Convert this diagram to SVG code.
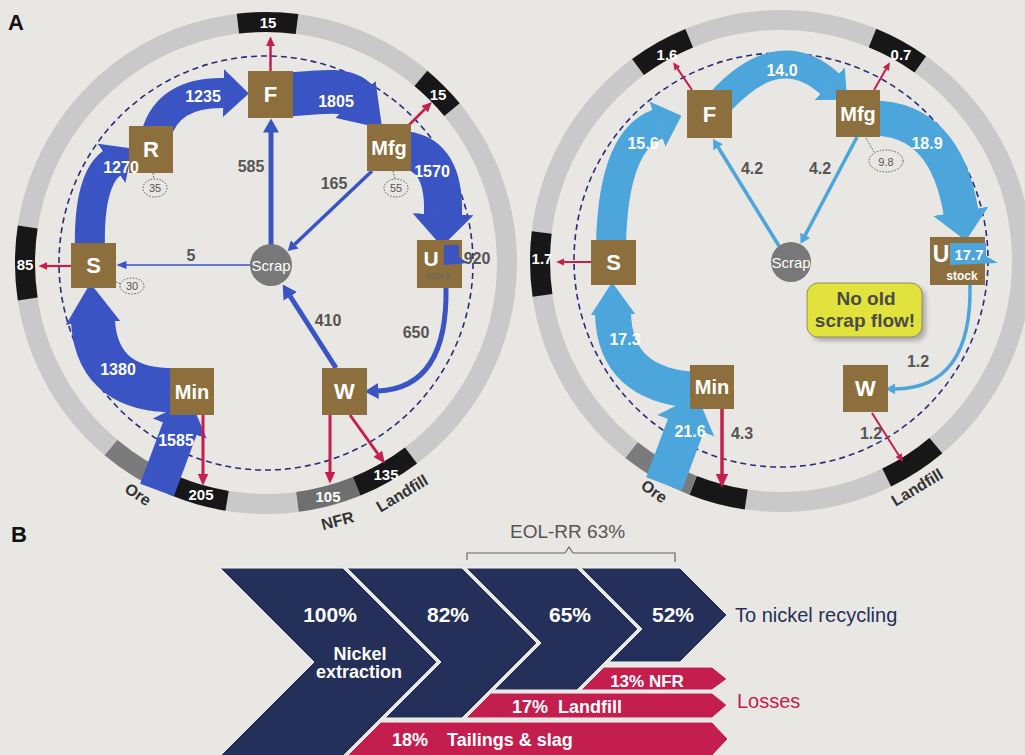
<svg xmlns="http://www.w3.org/2000/svg" width="1025" height="755" viewBox="0 0 1025 755">
<style>
.ring{fill:none;stroke:#c9c9c9;stroke-width:20}
.seg{fill:none;stroke-width:20}
.blk{stroke:#171717}
.dk{stroke:#7b7b7b}
.nfr{stroke:#6f6f6f}
.dash{fill:none;stroke:#2b2b78;stroke-width:1.6;stroke-dasharray:6 4}
.node rect{fill:#8c6f3c}
.scrap circle{fill:#787878}
.t{font-family:"Liberation Sans",Arial,sans-serif}
.nl{font-weight:bold;fill:#fff;text-anchor:middle}
.db{fill:none;stroke:#3a54c4}
.lb{fill:none;stroke:#4ca5db}
.rd{fill:none;stroke:#c51f4b}
.wl{font-weight:bold;font-size:16px;fill:#fff;text-anchor:middle}
.gl{font-weight:bold;font-size:16px;fill:#555;text-anchor:middle}
.rl{font-weight:bold;font-size:15px;fill:#fff;text-anchor:middle}
.ol{font-weight:bold;font-size:16px;fill:#333;text-anchor:middle}
.el{fill:none;stroke:#555;stroke-width:1;stroke-dasharray:1.5 1.5}
.et{font-size:11px;fill:#555;text-anchor:middle}
.nv{fill:#24305a;stroke:#f4f3f0;stroke-width:1}
.pk{fill:#c41e4e;stroke:#f4f3f0;stroke-width:1}
.bw{font-weight:bold;fill:#fff}
</style>
<defs>
<marker id="hAd" viewBox="0 -0.8 0.85 1.6" markerWidth="0.85" markerHeight="1.6" refX="0.02" refY="0" orient="auto"><path d="M0,-0.8 L0.85,0 L0,0.8 Z" fill="#3a54c4"/></marker>
<marker id="hBd" viewBox="0 -0.62 0.9 1.24" markerWidth="0.9" markerHeight="1.24" refX="0.02" refY="0" orient="auto"><path d="M0,-0.62 L0.9,0 L0,0.62 Z" fill="#3a54c4"/></marker>
<marker id="hAl" viewBox="0 -0.8 0.85 1.6" markerWidth="0.85" markerHeight="1.6" refX="0.02" refY="0" orient="auto"><path d="M0,-0.8 L0.85,0 L0,0.8 Z" fill="#4ca5db"/></marker>
<marker id="hBl" viewBox="0 -0.62 0.9 1.24" markerWidth="0.9" markerHeight="1.24" refX="0.02" refY="0" orient="auto"><path d="M0,-0.62 L0.9,0 L0,0.62 Z" fill="#4ca5db"/></marker>
<marker id="td" viewBox="0 -1.6 2.8 3.2" markerWidth="2.8" markerHeight="3.2" refX="0.1" refY="0" orient="auto"><path d="M0,-1.6 L2.8,0 L0,1.6 Z" fill="#3a54c4"/></marker>
<marker id="tl" viewBox="0 -1.6 2.8 3.2" markerWidth="2.8" markerHeight="3.2" refX="0.1" refY="0" orient="auto"><path d="M0,-1.6 L2.8,0 L0,1.6 Z" fill="#4ca5db"/></marker>
<marker id="fd" viewBox="0 -4 10 8" markerWidth="10" markerHeight="8" markerUnits="userSpaceOnUse" refX="0.5" refY="0" orient="auto"><path d="M0,-4 L10,0 L0,4 Z" fill="#3a54c4"/></marker>
<marker id="rh" viewBox="0 -1.8 4 3.6" markerWidth="4" markerHeight="3.6" refX="0.1" refY="0" orient="auto"><path d="M0,-1.8 L4,0 L0,1.8 Z" fill="#c51f4b"/></marker>
<filter id="sh" x="-20%" y="-20%" width="140%" height="140%"><feGaussianBlur stdDeviation="2"/></filter>
</defs>

<rect width="1025" height="755" fill="#e9e7e3"/>

<g class="t">
<text x="8" y="30" font-size="22" font-weight="bold" fill="#111">A</text>
<text x="11" y="542" font-size="22" font-weight="bold" fill="#111">B</text>
</g>

<!-- LEFT CIRCLE rings -->
<g id="L-ring">
<circle cx="266" cy="263" r="241" class="ring"/>
<path class="seg blk" d="M237.9,23.6 A241,241 0 0 1 297.0,24.0"/>
<path class="seg blk" d="M420.9,78.4 A241,241 0 0 1 452.0,109.7"/>
<path class="seg blk" d="M27.7,299 A241,241 0 0 1 27.7,227"/>
<path class="seg blk" d="M227.1,500.8 A241,241 0 0 1 173.0,485.3"/>
<path class="seg dk" d="M173.0,485.3 A241,241 0 0 1 111.1,447.6"/>
<path class="seg nfr" d="M356.7,486.3 A241,241 0 0 1 297.5,501.9"/>
<path class="seg blk" d="M411.0,455.5 A241,241 0 0 1 356.7,486.3"/>
<circle cx="266" cy="263" r="207" class="dash"/>
<g class="t">
<text class="rl" x="268" y="28">15</text>
<text class="rl" x="438" y="100">15</text>
<text class="rl" x="25" y="270">85</text>
<text class="rl" x="201" y="500">205</text>
<text class="rl" x="328" y="502">105</text>
<text class="rl" x="386" y="480">135</text>
<text class="ol" transform="translate(135,499) rotate(33)">Ore</text>
<text class="ol" transform="translate(339,526) rotate(-15)">NFR</text>
<text class="ol" transform="translate(405,498) rotate(-31)">Landfill</text>
</g>
</g>

<!-- RIGHT CIRCLE rings -->
<g id="R-ring">
<circle cx="781" cy="261" r="241" class="ring"/>
<path class="seg blk" d="M638.0,67.0 A241,241 0 0 1 689.2,38.2"/>
<path class="seg blk" d="M872.5,38.0 A241,241 0 0 1 920.3,64.3"/>
<path class="seg blk" d="M542.5,295.4 A241,241 0 0 1 541.7,232.5"/>
<path class="seg blk" d="M746.2,499.5 A241,241 0 0 1 693.1,485.4"/>
<path class="seg dk" d="M693.1,485.4 A241,241 0 0 1 631.6,450.1"/>
<path class="seg blk" d="M935.9,445.6 A241,241 0 0 1 886.7,477.6"/>
<circle cx="781" cy="260" r="207" class="dash"/>
<g class="t">
<text class="rl" x="667" y="60">1.6</text>
<text class="rl" x="901" y="60">0.7</text>
<text class="rl" x="542" y="264">1.7</text>
<text class="ol" transform="translate(651,496) rotate(35)">Ore</text>
<text class="ol" transform="translate(920,492) rotate(-31)">Landfill</text>
</g>
</g>

<!-- CONNECTORS -->
<g id="connectors">
<!-- left -->
<path class="db" stroke-width="30" d="M156,135 Q168,92 224,93" marker-end="url(#hAd)"/>
<path class="db" stroke-width="44" d="M285,95 C320,92 345,88 356,100" marker-end="url(#hBd)"/>
<path class="db" stroke-width="38" d="M405,150 Q445,155 443,215" marker-end="url(#hAd)"/>
<path class="db" stroke-width="44" d="M185,390 Q98,395 93,322" marker-end="url(#hBd)"/>
<path class="db" stroke-width="36" d="M157,490 L180,428" marker-end="url(#hAd)"/>
<path class="db" stroke-width="30" d="M90,250 Q88,180 112,163" marker-end="url(#hAd)"/>
<path class="db" stroke-width="5" d="M446,287 Q448,388 378,391" marker-end="url(#td)"/>
<path class="db" stroke-width="5" d="M336,368 L290,296" marker-end="url(#td)"/>
<path class="db" stroke-width="5" d="M271,245 L271,132" marker-end="url(#td)"/>
<path class="db" stroke-width="3.5" d="M372,171 L294.5,244.6" marker-end="url(#td)"/>
<path class="db" stroke-width="1.3" d="M251,265 L126,265" marker-end="url(#fd)"/>
<path class="rd" stroke-width="2.5" d="M270.5,71 L270.5,46" marker-end="url(#rh)"/>
<path class="rd" stroke-width="2.5" d="M408,126 L425,109" marker-end="url(#rh)"/>
<path class="rd" stroke-width="2.2" d="M71,266 L47,266" marker-end="url(#rh)"/>
<path class="rd" stroke-width="3" d="M203,415 L203,474" marker-end="url(#rh)"/>
<path class="rd" stroke-width="3" d="M330,415 L330,472" marker-end="url(#rh)"/>
<path class="rd" stroke-width="3" d="M350,415 L378,454" marker-end="url(#rh)"/>
<!-- right -->
<path class="lb" stroke-width="30" d="M611,245 Q613,140 658,124" marker-end="url(#hAl)"/>
<path class="lb" stroke-width="28" d="M722,100 Q780,38 830,84" marker-end="url(#hAl)"/>
<path class="lb" stroke-width="35" d="M872,118 Q945,118 961,212" marker-end="url(#hAl)"/>
<path class="lb" stroke-width="36" d="M695,390 Q615,385 613,314" marker-end="url(#hBl)"/>
<path class="lb" stroke-width="38" d="M664,484 L686,425" marker-end="url(#hAl)"/>
<path class="lb" stroke-width="3.5" d="M970,285 Q972,388 895,389" marker-end="url(#tl)"/>
<path class="lb" stroke-width="3.5" d="M779,246 L718,147" marker-end="url(#tl)"/>
<path class="lb" stroke-width="3.5" d="M857,137 L805,235.5" marker-end="url(#tl)"/>
<path class="rd" stroke-width="2" d="M692,90 L677.5,68.6" marker-end="url(#rh)"/>
<path class="rd" stroke-width="2" d="M874,90 L886,69" marker-end="url(#rh)"/>
<path class="rd" stroke-width="2" d="M591,262 L564,262" marker-end="url(#rh)"/>
<path class="rd" stroke-width="3.5" d="M722,408 L722,474" marker-end="url(#rh)"/>
<path class="rd" stroke-width="2" d="M872,413 L898.7,455.2" marker-end="url(#rh)"/>
</g>

<!-- LEFT NODES -->
<g class="t">
<g id="L-F" class="node"><rect x="248" y="71" width="45" height="47"/><text class="nl" x="270.5" y="102" font-size="22">F</text></g>
<g id="L-Mfg" class="node"><rect x="367" y="124" width="44" height="47"/><text class="nl" x="389" y="154.5" font-size="20">Mfg</text></g>
<g id="L-U" class="node"><rect x="417" y="240" width="45" height="48"/><path d="M444,245 L459,245 L459,257 L468,263 L444,265 Z" fill="#3a54c4"/><text class="nl" x="431" y="266" font-size="21">U</text><rect x="423" y="269" width="32" height="11" fill="#f0efec"/><text x="439" y="278.5" font-size="11" fill="#666" text-anchor="middle">stock</text></g>
<g id="L-W" class="node"><rect x="322" y="368" width="45" height="47"/><text class="nl" x="344.5" y="399" font-size="22">W</text></g>
<g id="L-Min" class="node"><rect x="170" y="368" width="44" height="47"/><text class="nl" x="192" y="398.5" font-size="20">Min</text></g>
<g id="L-S" class="node"><rect x="71" y="243" width="45" height="45"/><text class="nl" x="93.5" y="273" font-size="22">S</text></g>
<g id="L-R" class="node"><rect x="129" y="126" width="44" height="47"/><text class="nl" x="151" y="157" font-size="22">R</text></g>
<g id="L-Scrap" class="scrap"><circle cx="271" cy="265" r="21"/><text x="271" y="270.5" font-size="15" fill="#fff" text-anchor="middle">Scrap</text></g>
</g>

<!-- RIGHT NODES -->
<g class="t">
<g id="R-F" class="node"><rect x="687" y="90" width="45" height="48"/><text class="nl" x="709.5" y="121.5" font-size="22">F</text></g>
<g id="R-Mfg" class="node"><rect x="836" y="90" width="44" height="47"/><text class="nl" x="858" y="120.5" font-size="20">Mfg</text></g>
<g id="R-U" class="node"><rect x="930" y="237" width="55" height="48"/><path d="M950,243 L986,243 L986,256 L998,263 L950,265 Z" fill="#4ca5db"/><text class="nl" x="941" y="262" font-size="23">U</text><text class="nl" x="969" y="260" font-size="15">17.7</text><text class="nl" x="962" y="280" font-size="12">stock</text></g>
<g id="R-W" class="node"><rect x="843" y="365" width="45" height="47"/><text class="nl" x="865.5" y="396" font-size="22">W</text></g>
<g id="R-Min" class="node"><rect x="690" y="365" width="44" height="44"/><text class="nl" x="712" y="394" font-size="20">Min</text></g>
<g id="R-S" class="node"><rect x="591" y="240" width="45" height="45"/><text class="nl" x="613.5" y="270" font-size="22">S</text></g>
<g id="R-Scrap" class="scrap"><circle cx="791" cy="262" r="20"/><text x="791" y="267.5" font-size="15" fill="#fff" text-anchor="middle">Scrap</text></g>
<g id="R-note">
<rect x="811" y="287" width="115" height="54" rx="11" fill="#666" opacity="0.45" filter="url(#sh)"/>
<rect x="807" y="283" width="115" height="54" rx="11" fill="#e2e23c" stroke="#8e8e62" stroke-width="1"/>
<text x="866" y="305" font-size="19" font-weight="bold" fill="#4a4a4a" text-anchor="middle">No old</text>
<text x="865" y="327" font-size="19" font-weight="bold" fill="#4a4a4a" text-anchor="middle">scrap flow!</text>
</g>
</g>

<!-- FLOW LABELS -->
<g class="t">
<text class="wl" x="203" y="102">1235</text>
<text class="wl" x="336" y="107">1805</text>
<text class="wl" x="121" y="173">1270</text>
<text class="wl" x="432" y="177">1570</text>
<text class="wl" x="118" y="375">1380</text>
<text class="wl" x="176" y="446">1585</text>
<text class="gl" x="251" y="172">585</text>
<text class="gl" x="334" y="189">165</text>
<text class="gl" x="191" y="261">5</text>
<text class="gl" x="477" y="264">920</text>
<text class="gl" x="328" y="326">410</text>
<text class="gl" x="416" y="338">650</text>
<text class="wl" x="643" y="149">15.6</text>
<text class="wl" x="782" y="76">14.0</text>
<text class="wl" x="927" y="149">18.9</text>
<text class="wl" x="625" y="345">17.3</text>
<text class="wl" x="690" y="437">21.6</text>
<text class="gl" x="752" y="174">4.2</text>
<text class="gl" x="820" y="174">4.2</text>
<text class="gl" x="918" y="367">1.2</text>
<text class="gl" x="742" y="439">4.3</text>
<text class="gl" x="871" y="439">1.2</text>
<g>
<path class="el" d="M153,173 L154,179"/><ellipse class="el" cx="155" cy="188" rx="12" ry="9"/><text class="et" x="155" y="192">35</text>
<path class="el" d="M393,171 L395,179"/><ellipse class="el" cx="396" cy="188" rx="12" ry="9"/><text class="et" x="396" y="192">55</text>
<path class="el" d="M116,282 L121,284"/><ellipse class="el" cx="132" cy="286" rx="12" ry="8"/><text class="et" x="132" y="290">30</text>
<path class="el" d="M866,138 L874,152"/><ellipse class="el" cx="886" cy="161" rx="17" ry="11"/><text class="et" x="886" y="166" font-size="13">9.8</text>
</g>
</g>

<!-- PART B -->
<g id="B-chevrons">
<polygon class="nv" points="220,568 343,568 437,662 343,756 220,756 314,662"/>
<polygon class="nv" points="347,568 462,568 537,643 462,718 385,718 441,662"/>
<polygon class="nv" points="466,568 577,568 638,629 577,690 494,690 541,643"/>
<polygon class="nv" points="581,568 680,568 727,615 680,662 609,662 642,629"/>
</g>
<g id="B-losses">
<polygon class="pk" points="604,667 712,667 727,679 712,690 581,690"/>
<polygon class="pk" points="491,693 712,693 727,705 712,718 466,718"/>
<polygon class="pk" points="381,722 712,722 728,739 712,756 347,756"/>
</g>
<g id="B-text" class="t">
<text class="bw" x="330" y="622" font-size="21" text-anchor="middle">100%</text>
<text class="bw" x="448" y="622" font-size="21" text-anchor="middle">82%</text>
<text class="bw" x="570" y="622" font-size="21" text-anchor="middle">65%</text>
<text class="bw" x="673" y="622" font-size="21" text-anchor="middle">52%</text>
<text class="bw" x="360" y="660" font-size="18" text-anchor="middle">Nickel</text>
<text class="bw" x="359" y="678" font-size="18" text-anchor="middle">extraction</text>
<text class="bw" x="647" y="687" font-size="17" text-anchor="middle">13% NFR</text>
<text class="bw" x="512" y="713" font-size="18">17%</text>
<text class="bw" x="558" y="713" font-size="18">Landfill</text>
<text class="bw" x="392" y="746" font-size="18">18%</text>
<text class="bw" x="447" y="746" font-size="18">Tailings &amp; slag</text>
<text x="735" y="622" font-size="20" fill="#24305a">To nickel recycling</text>
<text x="737" y="708" font-size="20" fill="#c41e4e">Losses</text>
<text x="510" y="538" font-size="19" fill="#555">EOL-RR 63%</text>
<path d="M467,560 L467,553 L565,553 L569,547 L573,553 L675,553 L675,562" fill="none" stroke="#666" stroke-width="1.2"/>
</g>
</svg>
